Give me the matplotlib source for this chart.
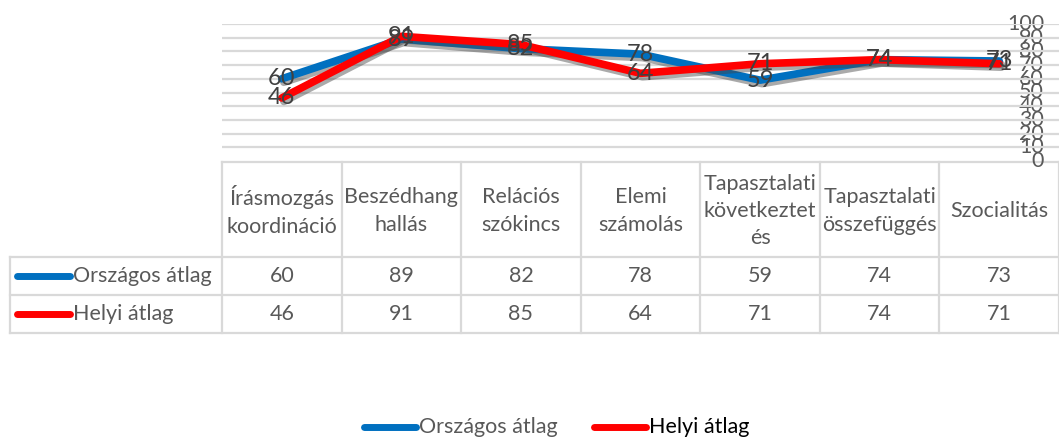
import matplotlib.pyplot as plt
import matplotlib.patheffects as pe

plt.rcParams['font.family'] = ['Lato', 'DejaVu Sans']

categories = ['Írásmozgás\nkoordináció', 'Beszédhang\nhallás', 'Relációs\nszókincs',
              'Elemi\nszámolás', 'Tapasztalati\nkövetkeztet\nés', 'Tapasztalati\nösszefüggés',
              'Szocialitás']
series_names = ['Országos átlag', 'Helyi átlag']
orszagos = [60, 89, 82, 78, 59, 74, 73]
helyi = [46, 91, 85, 64, 71, 74, 71]
y_ticks = list(range(0, 101, 10))

colors = ['#0070C0', '#FF0000']
text_gray = '#595959'
label_gray = '#404040'
grid_gray = '#D9D9D9'
fs = 15.5

W, H = 1059, 438
left, right = 222, 1059
top, base = 24, 161
col_w = (right - left) / len(categories)
header_bot, row1_bot, row2_bot = 257, 295, 333
legend_left = 10

fig = plt.figure(figsize=(W / 100, H / 100), dpi=100)

# line chart
ax = fig.add_axes([left / W, (H - base) / H, (right - left) / W, (base - top) / H])
ax.set_xlim(0, len(categories))
ax.set_ylim(0, 100)
ax.patch.set_visible(False)
for s in ax.spines.values():
    s.set_visible(False)
ax.set_xticks([])
ax.set_yticks([])
for t in y_ticks[1:]:
    ax.axhline(t, color=grid_gray, lw=1.6, zorder=0)

# overlay axes in pixel coordinates for the table, y labels and legend
tab = fig.add_axes([0, 0, 1, 1], zorder=-1)
tab.set_xlim(0, W)
tab.set_ylim(H, 0)
tab.axis('off')

xs = [i + 0.5 for i in range(len(categories))]
shadow = [pe.SimpleLineShadow(offset=(1.5, -2.5), shadow_color='#444444', alpha=0.45),
          pe.Normal()]
for vals, c in zip([orszagos, helyi], colors):
    ax.plot(xs, vals, color=c, lw=5.5, solid_capstyle='round', solid_joinstyle='round',
            path_effects=shadow, zorder=2, clip_on=False)
for vals in [orszagos, helyi]:
    for x, v in zip(xs, vals):
        ax.text(x, v, str(v), ha='center', va='center', fontsize=17, color=label_gray,
                zorder=5, clip_on=False)

# y axis labels on the right, inside the plot area
for t in y_ticks:
    tab.text(1044, base - (base - top) * t / 100, str(t), ha='right', va='center',
             fontsize=fs, color=text_gray)

# table grid
tab.plot([left, right], [base + 1, base + 1], color=grid_gray, lw=1.6)
for yb in [header_bot, row1_bot, row2_bot]:
    tab.plot([legend_left, right], [yb, yb], color=grid_gray, lw=1.6)
tab.plot([legend_left, legend_left], [header_bot, row2_bot], color=grid_gray, lw=1.6)
for i in range(len(categories) + 1):
    x = left + i * col_w
    tab.plot([x, x], [base + 1, row2_bot], color=grid_gray, lw=1.6)

for i, cat in enumerate(categories):
    cx = left + (i + 0.5) * col_w
    tab.text(cx, (base + header_bot) / 2 + 2, cat, ha='center', va='center',
             fontsize=fs, color=text_gray, linespacing=1.45)
    tab.text(cx, (header_bot + row1_bot) / 2, str(orszagos[i]), ha='center', va='center',
             fontsize=fs, color=text_gray)
    tab.text(cx, (row1_bot + row2_bot) / 2, str(helyi[i]), ha='center', va='center',
             fontsize=fs, color=text_gray)

for (y0, y1), name, c in zip([(header_bot, row1_bot), (row1_bot, row2_bot)], series_names, colors):
    yc = (y0 + y1) / 2
    tab.plot([17, 70], [yc, yc], color=c, lw=5, solid_capstyle='round')
    tab.text(73, yc, name, ha='left', va='center', fontsize=fs, color=text_gray)

# bottom legend
ly = 427
tab.plot([364, 416], [ly, ly], color=colors[0], lw=5, solid_capstyle='round')
tab.text(419, ly, series_names[0], ha='left', va='center', fontsize=fs, color=text_gray)
tab.plot([594, 646], [ly, ly], color=colors[1], lw=5, solid_capstyle='round')
tab.text(649, ly, series_names[1], ha='left', va='center', fontsize=fs, color='black')

fig.savefig('out.png', dpi=100)
